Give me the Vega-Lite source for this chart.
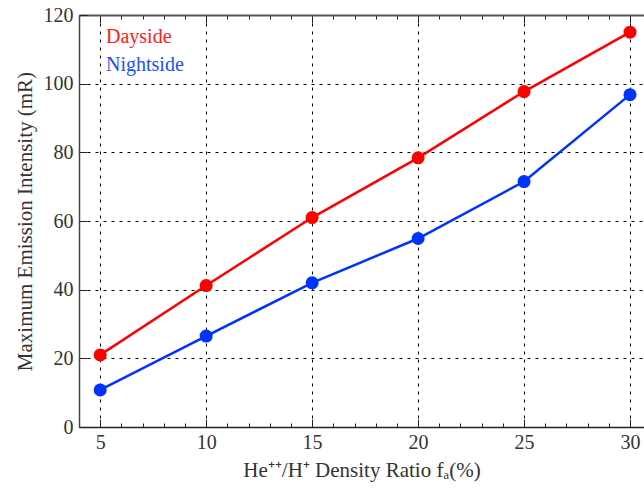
{
  "$schema": "https://vega.github.io/schema/vega-lite/v6.json",
  "width": 565,
  "height": 412,
  "autosize": {"type": "none"},
  "padding": {"left": 79, "top": 15, "right": 0, "bottom": 62},
  "background": "white",
  "config": {
    "view": {"stroke": null},
    "font": "Liberation Serif",
    "axis": {
      "labelFont": "Liberation Serif",
      "titleFont": "Liberation Serif",
      "labelColor": "#333333",
      "titleColor": "#333333",
      "titleFontWeight": "normal",
      "domainColor": "#222222",
      "tickColor": "#222222",
      "gridColor": "#000000",
      "gridDash": [3, 5],
      "gridWidth": 1
    }
  },
  "data": {
    "values": [
      {"ratio": 5, "intensity": 21.0, "side": "Dayside"},
      {"ratio": 10, "intensity": 41.2, "side": "Dayside"},
      {"ratio": 15, "intensity": 61.0, "side": "Dayside"},
      {"ratio": 20, "intensity": 78.4, "side": "Dayside"},
      {"ratio": 25, "intensity": 97.7, "side": "Dayside"},
      {"ratio": 30, "intensity": 115.0, "side": "Dayside"},
      {"ratio": 5, "intensity": 10.8, "side": "Nightside"},
      {"ratio": 10, "intensity": 26.5, "side": "Nightside"},
      {"ratio": 15, "intensity": 42.0, "side": "Nightside"},
      {"ratio": 20, "intensity": 54.9, "side": "Nightside"},
      {"ratio": 25, "intensity": 71.5, "side": "Nightside"},
      {"ratio": 30, "intensity": 96.8, "side": "Nightside"}
    ]
  },
  "layer": [
    {
      "mark": {"type": "line", "strokeWidth": 2.5},
      "encoding": {
        "x": {
          "field": "ratio",
          "type": "quantitative",
          "scale": {"domain": [4, 30.66], "nice": false, "zero": false},
          "axis": {
            "orient": "bottom",
            "values": [4, 5, 6, 7, 8, 9, 10, 11, 12, 13, 14, 15, 16, 17, 18, 19, 20, 21, 22, 23, 24, 25, 26, 27, 28, 29, 30],
            "labelExpr": "datum.value % 5 === 0 ? datum.label : ''",
            "labelFontSize": 20,
            "labelPadding": 13,
            "tickSize": {"condition": {"test": "datum.value % 5 === 0", "value": -8}, "value": -4},
            "gridOpacity": {"condition": {"test": "datum.value % 5 === 0", "value": 1}, "value": 0},
            "grid": true,
            "domainWidth": 1.5,
            "title": "He⁺⁺/H⁺ Density Ratio fₐ(%)",
            "titleFontSize": 21,
            "titlePadding": 7
          }
        },
        "y": {
          "field": "intensity",
          "type": "quantitative",
          "scale": {"domain": [0, 120], "nice": false},
          "axis": {
            "values": [0, 5, 10, 15, 20, 25, 30, 35, 40, 45, 50, 55, 60, 65, 70, 75, 80, 85, 90, 95, 100, 105, 110, 115, 120],
            "labelExpr": "datum.value % 20 === 0 ? datum.label : ''",
            "labelFontSize": 20,
            "labelPadding": 14,
            "tickSize": {"condition": {"test": "datum.value % 20 === 0", "value": -8}, "value": -4},
            "gridOpacity": {"condition": {"test": "datum.value % 20 === 0", "value": 1}, "value": 0},
            "grid": true,
            "domainWidth": 1.5,
            "domainColor": "#444444",
            "title": "Maximum Emission Intensity (mR)",
            "titleFontSize": 21,
            "titlePadding": 8
          }
        },
        "color": {
          "field": "side",
          "type": "nominal",
          "scale": {"domain": ["Dayside", "Nightside"], "range": ["#ff0000", "#0033ff"]},
          "legend": {
            "orient": "none",
            "legendX": 7,
            "legendY": 12,
            "title": null,
            "symbolSize": 0,
            "symbolOpacity": 0,
            "symbolStrokeWidth": 0,
            "labelOffset": 0,
            "labelFont": "Liberation Serif",
            "labelFontSize": 20,
            "rowPadding": 8,
            "encode": {
              "labels": {
                "update": {
                  "fill": {"signal": "datum.value === 'Dayside' ? '#ff2020' : '#2050ff'"}
                }
              }
            }
          }
        }
      }
    },
    {
      "mark": {"type": "circle", "size": 170, "opacity": 1},
      "encoding": {
        "x": {
          "field": "ratio",
          "type": "quantitative",
          "axis": {
            "orient": "top",
            "values": [4, 5, 6, 7, 8, 9, 10, 11, 12, 13, 14, 15, 16, 17, 18, 19, 20, 21, 22, 23, 24, 25, 26, 27, 28, 29, 30],
            "labels": false,
            "title": null,
            "grid": false,
            "tickSize": {"condition": {"test": "datum.value % 5 === 0", "value": -8}, "value": -4},
            "domainWidth": 2,
            "domainColor": "#555555"
          }
        },
        "y": {"field": "intensity", "type": "quantitative"},
        "color": {"field": "side", "type": "nominal"}
      }
    }
  ],
  "resolve": {"axis": {"x": "independent"}}
}
